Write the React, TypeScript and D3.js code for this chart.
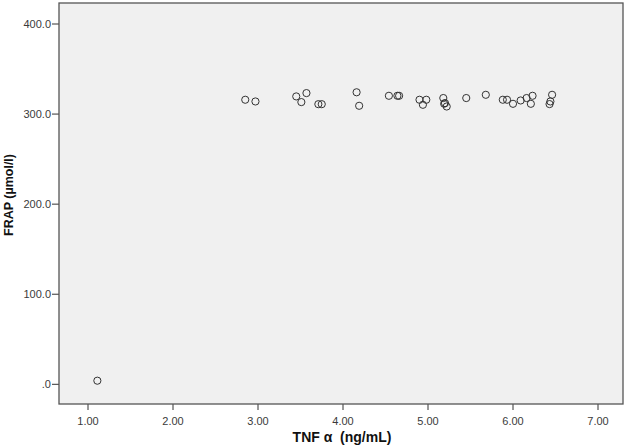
import React from "react";
import * as d3 from "d3";

const tnf: number[] = [
  1.11, 2.85, 2.97, 3.45, 3.57, 3.51, 3.71, 3.75,
  4.16, 4.19, 4.54, 4.64, 4.66, 4.90, 4.98, 4.94,
  5.18, 5.20, 5.22, 5.19, 5.45, 5.68, 5.88, 5.93, 6.00,
  6.09, 6.16, 6.23, 6.21, 6.46, 6.44, 6.43,
];
const frap: number[] = [
  4.0, 315.9, 314.0, 319.6, 323.3, 313.3, 311.0, 311.0,
  324.2, 309.2, 320.3, 320.3, 320.3, 315.9, 315.9, 310.3,
  317.8, 312.2, 308.4, 311.5, 317.8, 321.4, 315.9, 315.9, 311.4,
  315.1, 317.8, 320.3, 311.4, 321.4, 314.0, 311.1,
];
const xTicks: number[] = [1, 2, 3, 4, 5, 6, 7];
const yTicks: number[] = [0, 100, 200, 300, 400];
const xTitle = "TNF α  (ng/mL)";
const yTitle = "FRAP (µmol/l)";

const W = 629;
const H = 448;
const left = 59;
const right = 623;
const top = 3;
const bottom = 404;

export default function App() {
  const x = d3.scaleLinear().domain([1, 7]).range([88, 598]);
  const y = d3.scaleLinear().domain([0, 400]).range([384.3, 24]);
  const fmtX = d3.format(".2f");
  const fmtY = (v: number) => (v === 0 ? ".0" : d3.format(".1f")(v));
  const font = "Liberation Sans, Arial, sans-serif";

  return (
    <svg
      width={W}
      height={H}
      style={{ position: "absolute", left: 0, top: 0, background: "#fff" }}
      fontFamily={font}
    >
      <rect x={left} y={top} width={right - left} height={bottom - top} fill="#f0f0f0" stroke="none" />
      {yTicks.map((t) => (
        <g key={"y" + t}>
          <line x1={left - 7} x2={left} y1={y(t)} y2={y(t)} stroke="#333" strokeWidth={1} />
          <text x={left - 8} y={y(t)} dy="0.35em" textAnchor="end" fontSize={11} fill="#3a3a3a">
            {fmtY(t)}
          </text>
        </g>
      ))}
      {xTicks.map((t) => (
        <g key={"x" + t}>
          <line x1={x(t)} x2={x(t)} y1={bottom} y2={bottom + 6} stroke="#333" strokeWidth={1} />
          <text x={x(t)} y={425} textAnchor="middle" fontSize={11} fill="#3a3a3a">
            {fmtX(t)}
          </text>
        </g>
      ))}
      <rect
        x={left}
        y={top}
        width={right - left}
        height={bottom - top}
        fill="none"
        stroke="#555"
        strokeWidth={1.3}
      />
      {tnf.map((v, i) => (
        <circle
          key={i}
          cx={x(v)}
          cy={y(frap[i])}
          r={3.6}
          fill="none"
          stroke="#333"
          strokeWidth={1}
        />
      ))}
      <text
        x={342}
        y={442}
        textAnchor="middle"
        fontSize={14}
        fontWeight="bold"
        fill="#111"
        style={{ whiteSpace: "pre" }}
      >
        {xTitle}
      </text>
      <text
        transform={`translate(13, 195) rotate(-90)`}
        textAnchor="middle"
        fontSize={12.5}
        fontWeight="bold"
        fill="#111"
      >
        {yTitle}
      </text>
    </svg>
  );
}
